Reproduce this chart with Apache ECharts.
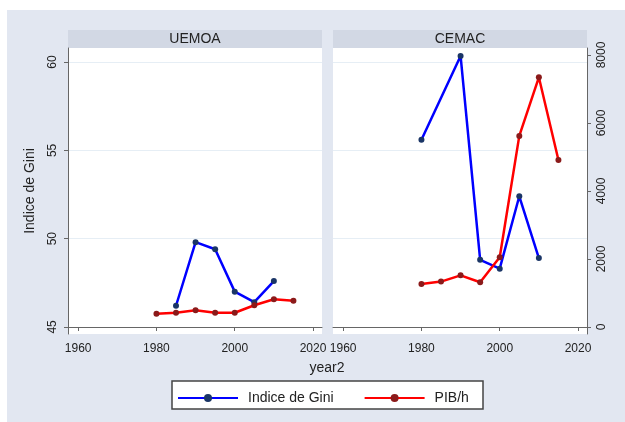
<!DOCTYPE html>
<html>
<head>
<meta charset="utf-8">
<script src="https://cdn.jsdelivr.net/npm/echarts@6/dist/echarts.min.js"></script>
<style>
  html, body { margin: 0; padding: 0; background: #fff; }
  #chart { width: 625px; height: 422px; }
</style>
</head>
<body>
<div id="chart"></div>
<script>
// values
const years = [1980, 1985, 1990, 1995, 2000, 2005, 2010, 2015];
const giniUEMOA = [null, 46.2, 49.8, 49.4, 47.0, 46.4, 47.6, null];
const pibUEMOA = [390, 420, 490, 420, 420, 640, 815, 775];
const giniCEMAC = [55.6, null, 60.35, 48.8, 48.3, 52.4, 48.9, null];
const pibCEMAC = [1265, 1335, 1520, 1315, 2050, 5620, 7345, 4910];
const xTicks = [1960, 1980, 2000, 2020];
const giniTicks = [45, 50, 55, 60];
const pibTicks = [0, 2000, 4000, 6000, 8000];

const pairs = (vals) => years.map((y, i) => [y, vals[i]]).filter(p => p[1] != null);
const plain = (v) => String(v);

const FONT = 'Liberation Sans';
const axisGrey = '#666';
const giniColor = '#0000ff';
const pibColor = '#ff0000';

const chart = echarts.init(document.getElementById('chart'));

function xAxis(gridIndex) {
  return {
    type: 'value', gridIndex, min: 1957.4, max: 2022.3,
    axisLine: { show: true, lineStyle: { color: axisGrey, width: 1 } },
    axisTick: { show: true, length: 4, customValues: xTicks, lineStyle: { color: axisGrey } },
    axisLabel: { customValues: xTicks, formatter: plain, color: '#222', fontFamily: FONT, fontSize: 12, margin: 9 },
    splitLine: { show: false }
  };
}

function giniAxis(gridIndex, visible) {
  return {
    type: 'value', gridIndex, position: 'left', min: 44.6, max: 60.8,
    name: visible ? 'Indice de Gini' : '', nameLocation: 'middle', nameGap: 31, nameRotate: 90,
    nameTextStyle: { color: '#222', fontFamily: FONT, fontSize: 14 },
    axisLine: { show: visible, lineStyle: { color: axisGrey, width: 1 } },
    axisTick: { show: visible, length: 4, customValues: giniTicks, lineStyle: { color: axisGrey } },
    axisLabel: { show: visible, customValues: giniTicks, formatter: plain, rotate: 90, color: '#222', fontFamily: FONT, fontSize: 12, margin: 9 },
    splitLine: { show: true, lineStyle: { color: '#e6eef5', width: 1 } }
  };
}

function pibAxis(gridIndex, visible) {
  return {
    type: 'value', gridIndex, position: 'right', min: -206, max: 8206,
    axisLine: { show: visible, lineStyle: { color: axisGrey, width: 1 } },
    axisTick: { show: visible, length: 4, customValues: pibTicks, lineStyle: { color: axisGrey } },
    axisLabel: { show: visible, customValues: pibTicks, formatter: plain, rotate: 90, color: '#222', fontFamily: FONT, fontSize: 12, margin: 9 },
    splitLine: { show: false }
  };
}

function line(name, data, xi, yi, color, marker) {
  return {
    name, type: 'line', xAxisIndex: xi, yAxisIndex: yi, data,
    symbol: 'circle', symbolSize: 6,
    lineStyle: { color, width: 2.5 },
    itemStyle: { color: marker },
    animation: false
  };
}

chart.setOption({
  animation: false,
  backgroundColor: '#fff',
  textStyle: { fontFamily: FONT },
  graphic: [
    { type: 'rect', z: -10, shape: { x: 7, y: 10, width: 618, height: 412 }, style: { fill: '#e2e7f1' } },
    { type: 'rect', z: -9, shape: { x: 68, y: 30, width: 254, height: 18 }, style: { fill: '#d2d8e4' } },
    { type: 'rect', z: -9, shape: { x: 333, y: 30, width: 254, height: 18 }, style: { fill: '#d2d8e4' } },
    { type: 'rect', z: -9, shape: { x: 68, y: 48, width: 254, height: 286 }, style: { fill: '#fff' } },
    { type: 'rect', z: -9, shape: { x: 333, y: 48, width: 254, height: 286 }, style: { fill: '#fff' } },
    { type: 'text', x: 195, y: 39, style: { text: 'UEMOA', font: '14px "Liberation Sans"', fill: '#222', align: 'center', verticalAlign: 'middle' } },
    { type: 'text', x: 460, y: 39, style: { text: 'CEMAC', font: '14px "Liberation Sans"', fill: '#222', align: 'center', verticalAlign: 'middle' } },
    { type: 'text', x: 327, y: 368, style: { text: 'year2', font: '14px "Liberation Sans"', fill: '#222', align: 'center', verticalAlign: 'middle' } },
    { type: 'rect', z: -8, shape: { x: 172, y: 381, width: 311, height: 28 }, style: { fill: '#fff', stroke: '#444', lineWidth: 1.5 } }
  ],
  grid: [
    { left: 68, top: 48, width: 254, height: 286 },
    { left: 333, top: 48, width: 254, height: 286 }
  ],
  xAxis: [xAxis(0), xAxis(1)],
  yAxis: [giniAxis(0, true), pibAxis(0, false), giniAxis(1, false), pibAxis(1, true)],
  legend: {
    left: 172, top: 386, itemGap: 30, itemWidth: 60, itemHeight: 10,
    textStyle: { color: '#222', fontFamily: FONT, fontSize: 14, padding: [0, 0, 0, 5] },
    data: ['Indice de Gini', 'PIB/h']
  },
  series: [
    line('Indice de Gini', pairs(giniUEMOA), 0, 0, giniColor, '#1a3566'),
    line('PIB/h', pairs(pibUEMOA), 0, 1, pibColor, '#8b1a1a'),
    line('Indice de Gini', pairs(giniCEMAC), 1, 2, giniColor, '#1a3566'),
    line('PIB/h', pairs(pibCEMAC), 1, 3, pibColor, '#8b1a1a')
  ]
});
</script>
</body>
</html>
